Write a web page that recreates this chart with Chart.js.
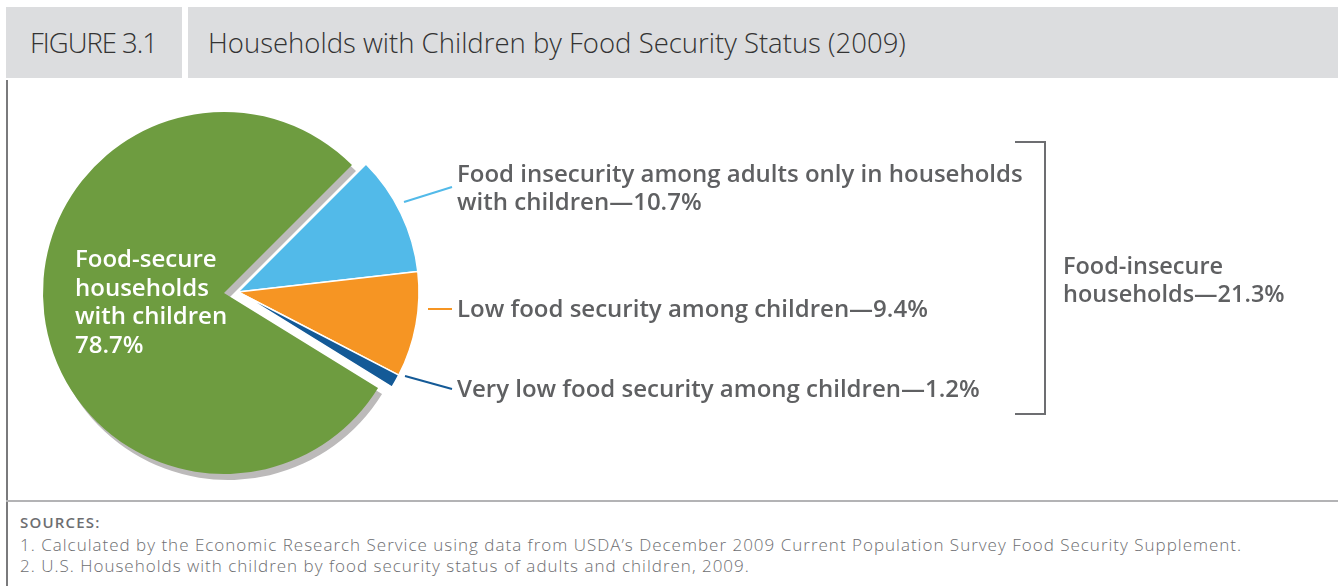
<!DOCTYPE html>
<html>
<head>
<meta charset="utf-8">
<script src="https://cdn.jsdelivr.net/npm/chart.js@4.4.1/dist/chart.umd.min.js"></script>
<style>
  html, body { margin: 0; padding: 0; background: #fff; }
  body { width: 1338px; height: 586px; position: relative; overflow: hidden; font-family: "Open Sans", "Lato", sans-serif; }
  .box { position: absolute; top: 7px; height: 71px; background: #dcdddf; color: #333; font-weight: 300; font-size: 27.5px; line-height: 71px; white-space: nowrap; }
  #figno { left: 6px; width: 176px; padding-left: 24px; box-sizing: border-box; letter-spacing: -1px; }
  #title { left: 188px; right: 0; padding-left: 20px; }
  #leftline { position: absolute; left: 6px; top: 80px; width: 2px; height: 506px; background: #7a7a7c; }
  #sepline { position: absolute; left: 6px; right: 0; top: 500px; height: 2px; background: #b3b3b5; }
  .src { position: absolute; left: 20px; color: #6d6e71; font-size: 17px; font-weight: 300; line-height: 20px; letter-spacing: 1px; white-space: nowrap; }
  #srchead { top: 512px; font-size: 15px; font-weight: 600; letter-spacing: 1.2px; }
  #wrap { position: absolute; left: 0; top: 0; width: 1338px; height: 586px; }
</style>
</head>
<body>
<div class="box" id="figno">FIGURE 3.1</div>
<div class="box" id="title">Households with Children by Food Security Status (2009)</div>
<div id="leftline"></div>
<div id="sepline"></div>
<div class="src" id="srchead">SOURCES:</div>
<div class="src" style="top:535px">1. Calculated by the Economic Research Service using data from USDA’s December 2009 Current Population Survey Food Security Supplement.</div>
<div class="src" style="top:556px">2. U.S. Households with children by food security status of adults and children, 2009.</div>
<div id="wrap"><canvas id="pie"></canvas></div>
<script>
// data (percent of households with children)
const categories = [
  "Food insecurity among adults only in households with children",
  "Low food security among children",
  "Very low food security among children",
  "Food-secure households with children"
];
const values = [10.7, 9.4, 1.2, 78.7];
const colors = ["#52bae9", "#f69523", "#145a97", "#6e9c40"];
const insecureTotal = 21.3;

// label lines drawn beside the pie
const labelLines = [
  ["Food insecurity among adults only in households", "with children—10.7%"],
  ["Low food security among children—9.4%"],
  ["Very low food security among children—1.2%"],
  ["Food-secure", "households", "with children", "78.7%"]
];
const groupLabel = ["Food-insecure", "households—21.3%"];

// green slice sits apart from the food-insecure slices
const splitPlugin = {
  id: 'split',
  afterUpdate(chart) {
    const arc = chart.getDatasetMeta(0).data[3];
    arc.x -= 14;
    arc.y += 1;
  },
  beforeDatasetsDraw(chart) {
    // grey drop shadow behind the green slice
    const arc = chart.getDatasetMeta(0).data[3];
    const ctx = chart.ctx;
    ctx.save();
    ctx.fillStyle = '#bcbaba';
    ctx.beginPath();
    ctx.moveTo(arc.x + 4, arc.y + 6);
    ctx.arc(arc.x + 4, arc.y + 6, arc.outerRadius, arc.startAngle, arc.endAngle);
    ctx.closePath();
    ctx.fill();
    ctx.restore();
  }
};

const labelPlugin = {
  id: 'labels',
  afterDatasetsDraw(chart) {
    const ctx = chart.ctx;
    ctx.save();

    // leader lines
    const leaders = [
      [[404, 202], [452, 187]],
      [[428, 309], [452, 309]],
      [[405, 376], [452, 389]]
    ];
    leaders.forEach((l, i) => {
      ctx.strokeStyle = colors[i];
      ctx.lineWidth = 2;
      ctx.beginPath();
      ctx.moveTo(l[0][0], l[0][1]);
      ctx.lineTo(l[1][0], l[1][1]);
      ctx.stroke();
    });

    // side labels
    ctx.fillStyle = '#5f6062';
    ctx.font = '600 24px "Open Sans"';
    ctx.textBaseline = 'alphabetic';
    const starts = [182, 317, 397];
    labelLines.slice(0, 3).forEach((lines, i) => {
      lines.forEach((t, j) => ctx.fillText(t, 457, starts[i] + j * 28));
    });

    // bracket
    ctx.strokeStyle = '#6d6e71';
    ctx.lineWidth = 2;
    ctx.beginPath();
    ctx.moveTo(1015, 142);
    ctx.lineTo(1045, 142);
    ctx.lineTo(1045, 414);
    ctx.lineTo(1015, 414);
    ctx.stroke();

    ctx.font = '600 23.5px "Open Sans"';
    groupLabel.forEach((t, j) => ctx.fillText(t, 1063, 274 + j * 28));

    // label inside green slice
    ctx.fillStyle = '#ffffff';
    ctx.font = '600 24px "Open Sans"';
    labelLines[3].forEach((t, j) => ctx.fillText(t, 75, 267 + j * 28.5));
    ctx.restore();
  }
};

new Chart(document.getElementById('pie'), {
  type: 'pie',
  data: {
    labels: categories,
    datasets: [{
      data: values,
      backgroundColor: colors,
      borderColor: '#ffffff',
      borderWidth: [1.5, 1.5, 1.5, 0]
    }]
  },
  options: {
    responsive: true,
    maintainAspectRatio: false,
    animation: false,
    rotation: 45,
    radius: 181,
    layout: { padding: { left: 0, top: 0, right: 862, bottom: 2 } },
    plugins: {
      legend: { display: false },
      tooltip: { enabled: false }
    }
  },
  plugins: [splitPlugin, labelPlugin]
});
</script>
</body>
</html>
